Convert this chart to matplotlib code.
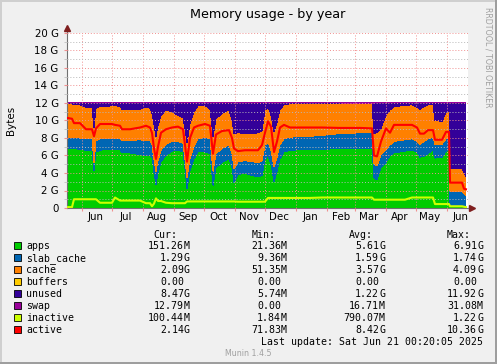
import datetime as dt

import matplotlib
matplotlib.use("Agg")
import matplotlib.dates as mdates
import matplotlib.pyplot as plt
import numpy as np
from matplotlib.patches import Rectangle
from matplotlib.ticker import FuncFormatter, MultipleLocator, NullFormatter

# munin "by year" graph: 400 days ending Sat Jun 21 00:20:05 2025, values in G
start = dt.datetime(2024, 5, 17, 0, 20)
day = [0, 5, 7, 13, 19, 25, 27, 29, 33, 39,
       45, 48, 53, 55, 63, 73, 79, 83, 85, 87,
       89, 91, 94, 99, 105, 111, 116, 118, 120, 123,
       127, 131, 138, 143, 146, 149, 155, 162, 165, 167,
       171, 178, 185, 191, 195, 198, 201, 204, 207, 210,
       213, 217, 223, 243, 255, 273, 293, 305, 307, 310,
       314, 319, 323, 327, 338, 345, 350, 353, 357, 361,
       366, 368, 375, 379, 382, 383, 395, 397, 399]
apps = [6.8, 6.8, 6.8, 6.7, 6.6, 6.6, 4.3, 6.4, 6.6, 6.7,
        6.7, 6.7, 6.7, 6.3, 6.3, 6.1, 6.0, 6.0, 5.8, 4.0,
        2.7, 4.0, 5.3, 6.0, 6.5, 6.6, 6.4, 4.5, 2.2, 4.3,
        5.6, 6.4, 6.4, 6.2, 2.6, 4.6, 5.2, 5.6, 4.6, 2.9,
        3.8, 4.0, 3.7, 3.6, 3.7, 5.5, 6.0, 5.0, 3.0, 4.2,
        5.6, 6.4, 6.6, 6.7, 6.7, 6.8, 6.85, 6.85, 3.5, 3.2,
        4.6, 5.2, 6.0, 6.3, 6.5, 6.6, 6.4, 5.8, 5.9, 6.2,
        6.6, 5.7, 5.8, 6.5, 6.6, 0.2, 0.2, 0.15, 0.15]
slab_cache = [1.3, 1.3, 1.3, 1.3, 1.3, 1.3, 0.9, 1.3, 1.3, 1.2,
              1.2, 1.2, 1.2, 1.4, 1.4, 1.7, 1.7, 1.7, 1.4, 1.5,
              1.5, 1.4, 1.3, 1.3, 1.1, 1.0, 1.0, 1.0, 1.3, 1.3,
              1.4, 1.5, 1.7, 1.7, 1.6, 1.6, 1.6, 1.6, 1.6, 1.6,
              1.5, 1.4, 1.6, 1.6, 1.7, 1.7, 1.5, 1.6, 1.7, 1.6,
              1.6, 1.5, 1.5, 1.5, 1.6, 1.7, 1.74, 1.74, 1.5, 1.6,
              1.5, 1.5, 1.2, 1.3, 1.3, 1.3, 1.2, 1.5, 1.7, 1.7,
              1.5, 1.5, 1.5, 1.4, 1.4, 1.7, 1.7, 1.5, 1.29]
cache = [3.8, 3.8, 3.7, 3.8, 3.6, 3.6, 4.0, 3.7, 3.7, 3.7,
         3.8, 3.8, 3.7, 3.6, 3.5, 3.5, 3.8, 3.7, 3.6, 4.0,
         4.0, 4.0, 4.0, 3.9, 3.4, 3.0, 2.9, 3.5, 4.0, 4.0,
         4.0, 3.8, 3.6, 3.4, 4.0, 4.0, 4.0, 4.0, 3.8, 4.0,
         3.3, 3.1, 3.2, 3.4, 3.4, 4.0, 4.0, 4.0, 4.0, 4.0,
         4.0, 3.9, 3.8, 3.7, 3.6, 3.4, 3.3, 3.3, 3.5, 3.8,
         3.0, 3.9, 4.0, 4.0, 3.9, 3.9, 3.9, 4.0, 4.0, 3.9,
         3.7, 2.8, 2.6, 3.0, 3.0, 2.6, 2.6, 2.4, 2.09]
unused = [0.1, 0.1, 0.2, 0.2, 0.5, 0.5, 2.8, 0.6, 0.4, 0.4,
          0.3, 0.3, 0.4, 0.7, 0.8, 0.7, 0.5, 0.6, 1.2, 2.5,
          3.8, 2.6, 1.4, 0.8, 1.0, 1.4, 1.7, 3.0, 4.5, 2.4,
          1.0, 0.3, 0.3, 0.7, 3.8, 1.8, 1.2, 0.8, 2.0, 3.5,
          3.4, 3.5, 3.5, 3.4, 3.2, 0.8, 0.5, 1.4, 3.3, 2.2,
          0.8, 0.2, 0.1, 0.1, 0.1, 0.1, 0.1, 0.1, 3.5, 3.4,
          2.9, 1.4, 0.8, 0.4, 0.3, 0.2, 0.5, 0.7, 0.4, 0.2,
          0.2, 2.0, 2.1, 1.1, 1.0, 7.5, 7.5, 7.95, 8.47]
# buffers is 0 all year and swap stays around 16M: both invisible at this scale
buffers = np.zeros(len(day))
swap = np.full(len(day), 0.016)
inactive = [0.1, 0.1, 1.0, 1.0, 1.0, 1.0, 1.0, 1.0, 0.6, 0.6,
            0.6, 1.2, 0.85, 0.85, 0.85, 0.85, 0.55, 0.55, 0.2, 0.5,
            1.1, 0.8, 0.8, 0.6, 0.55, 0.55, 0.55, 0.55, 0.75, 0.75,
            0.75, 0.75, 0.75, 0.75, 0.75, 0.75, 0.75, 0.75, 0.75, 0.75,
            0.72, 0.72, 0.72, 0.72, 0.72, 0.72, 1.15, 1.15, 1.15, 1.15,
            1.15, 1.15, 1.15, 1.15, 1.2, 1.2, 1.2, 1.2, 0.95, 0.95,
            0.95, 0.95, 0.95, 0.95, 0.95, 1.2, 1.2, 1.2, 1.2, 1.2,
            1.2, 0.45, 0.45, 0.45, 0.45, 0.2, 0.2, 0.15, 0.1]
active = [10.3, 10.2, 9.7, 9.7, 9.0, 9.0, 8.2, 9.1, 9.6, 9.6,
          9.6, 9.5, 9.4, 9.0, 9.0, 9.2, 9.4, 9.2, 8.6, 6.8,
          5.6, 7.0, 8.6, 9.0, 9.2, 9.3, 9.0, 7.2, 5.3, 8.0,
          9.2, 9.4, 9.6, 9.4, 6.2, 8.4, 8.8, 8.9, 8.0, 6.8,
          6.5, 6.6, 6.6, 6.6, 7.2, 8.6, 9.9, 9.3, 6.4, 7.6,
          9.2, 9.5, 9.2, 9.2, 9.2, 9.15, 9.15, 9.1, 6.0, 5.9,
          7.6, 9.1, 8.6, 9.5, 9.5, 9.5, 9.2, 8.5, 8.5, 8.9,
          8.9, 7.8, 7.8, 8.7, 8.7, 2.9, 2.9, 2.2, 2.14]

names = ["apps", "slab_cache", "cache", "buffers", "unused", "swap", "inactive", "active"]
colors = ["#00CC00", "#0066B3", "#FF8000", "#FFCC00", "#330099", "#990099", "#CCFF00", "#FF0000"]
cur = ["151.26M", "1.29G", "2.09G", "0.00", "8.47G", "12.79M", "100.44M", "2.14G"]
mins = ["21.36M", "9.36M", "51.35M", "0.00", "5.74M", "0.00", "1.84M", "71.83M"]
avgs = ["5.61G", "1.59G", "3.57G", "0.00", "1.22G", "16.71M", "790.07M", "8.42G"]
maxs = ["6.91G", "1.74G", "4.09G", "0.00", "11.92G", "31.08M", "1.22G", "10.36G"]
last_update = "Last update: Sat Jun 21 00:20:05 2025"

W, H = 497, 364
MGRID = "#F09090"
AXIS = "#707070"
ARROW = "#7F1F1F"


def fx(px):
    return px / W


def fy(py):
    return 1 - py / H


t = mdates.date2num(start) + np.array(day, dtype=float)

fig = plt.figure(figsize=(W / 100, H / 100), dpi=100, facecolor="#F0F0F0")
ax = fig.add_axes([fx(67), fy(208), (468 - 67) / W, (208 - 33) / H])
ax.set_facecolor("white")

ax.stackplot(t, apps, slab_cache, cache, buffers, unused, swap,
             colors=colors[:6], linewidth=0, antialiased=False)
ax.plot(t, inactive, color=colors[6], lw=1.5, zorder=3)
ax.plot(t, active, color=colors[7], lw=1.5, zorder=3)

ax.xaxis_date()
ax.set_xlim(mdates.date2num(start), mdates.date2num(start) + 401)
ax.set_ylim(0, 20)

ax.xaxis.set_major_locator(mdates.MonthLocator())
ax.xaxis.set_major_formatter(NullFormatter())
ax.xaxis.set_minor_locator(mdates.MonthLocator(bymonthday=15))
ax.xaxis.set_minor_formatter(mdates.DateFormatter("%b"))
ax.yaxis.set_major_locator(MultipleLocator(2))
ax.yaxis.set_minor_locator(MultipleLocator(1))
ax.yaxis.set_major_formatter(FuncFormatter(lambda v, p: "0" if v == 0 else f"{v:.0f} G"))

ax.tick_params(axis="x", which="minor", length=0, labelsize=7.4, pad=3)
ax.tick_params(axis="x", which="major", length=2, color=MGRID)
ax.tick_params(axis="y", which="major", length=2, color=MGRID, labelsize=7.4, pad=4)
ax.tick_params(axis="y", which="minor", length=2, color="#C0C0C0")

ax.set_axisbelow(False)
ax.xaxis.grid(True, which="major", color=MGRID, ls=(0, (1, 2)), lw=0.7)
ax.yaxis.grid(True, which="major", color=MGRID, ls=(0, (1, 2)), lw=0.7)
ax.yaxis.grid(True, which="minor", color="#B8B8B8", ls=(0, (1, 2)), lw=0.7)

for s in ["top", "right"]:
    ax.spines[s].set_visible(False)
for s in ["left", "bottom"]:
    ax.spines[s].set_color(AXIS)
    ax.spines[s].set_linewidth(0.8)

# axis arrows
ax.plot([0, 0], [1, 1.025], color=AXIS, lw=0.8, transform=ax.transAxes, clip_on=False)
ax.plot(0, 1.027, marker="^", ms=4.5, color=ARROW, transform=ax.transAxes, clip_on=False)
ax.plot([1, 1.008], [0, 0], color=AXIS, lw=0.8, transform=ax.transAxes, clip_on=False)
ax.plot(1.01, 0, marker=">", ms=4.5, color=ARROW, transform=ax.transAxes, clip_on=False)

fig.text(fx(268), fy(18), "Memory usage - by year", ha="center", va="baseline", fontsize=9.2)
fig.text(fx(11), fy(120.5), "Bytes", rotation=90, ha="center", va="center", fontsize=7.4)
fig.text(fx(488), fy(57), "RRDTOOL / TOBI OETIKER", rotation=270, ha="center", va="center",
         fontsize=5.7, color="#A0A0A0")

# legend table
mono = dict(family="DejaVu Sans Mono", fontsize=7.1, va="baseline")
col_end = [190, 287, 385, 483]
head_x = [153, 252, 349, 447]
for hx, h in zip(head_x, ["Cur:", "Min:", "Avg:", "Max:"]):
    fig.text(fx(hx), fy(237.5), h, ha="left", **mono)

row0 = 245.0
step = 12.05
for i, name in enumerate(names):
    yc = row0 + i * step
    fig.patches.append(Rectangle((fx(13.5), fy(yc + 3.5)), 7 / W, 7 / H, transform=fig.transFigure,
                                 facecolor=colors[i], edgecolor="black", lw=0.6))
    fig.text(fx(26), fy(yc + 3.6), name, ha="left", **mono)
    for ce, val in zip(col_end, [cur[i], mins[i], avgs[i], maxs[i]]):
        num, unit = (val[:-1], val[-1]) if val[-1] in "MG" else (val, "")
        fig.text(fx(ce - 6), fy(yc + 3.6), num, ha="right", **mono)
        if unit:
            fig.text(fx(ce - 6), fy(yc + 3.6), unit, ha="left", **mono)

fig.text(fx(483), fy(345.3), last_update, ha="right", **mono)
fig.text(fx(248.5), fy(356), "Munin 1.4.5", ha="center", va="baseline", fontsize=5.7, color="#A0A0A0")

# 3d frame
fig.patches.append(Rectangle((0, fy(2)), 1, 2 / H, transform=fig.transFigure, color="#CFCFCF", lw=0))
fig.patches.append(Rectangle((0, 0), fx(2), 1, transform=fig.transFigure, color="#CFCFCF", lw=0))
fig.patches.append(Rectangle((0, 0), 1, 2 / H, transform=fig.transFigure, color="#9E9E9E", lw=0))
fig.patches.append(Rectangle((fx(W - 2), 0), fx(2), 1, transform=fig.transFigure, color="#9E9E9E", lw=0))

fig.savefig("out.png", dpi=100, facecolor=fig.get_facecolor())
